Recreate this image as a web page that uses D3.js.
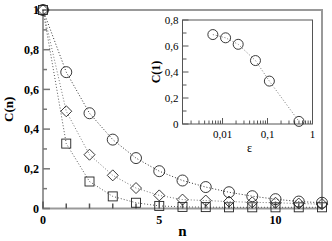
<!DOCTYPE html>
<html>
<head>
<meta charset="utf-8">
<style>
  body { margin: 0; background: #fff; }
  text { font-family: "Liberation Serif", "Times New Roman", "DejaVu Serif", serif; }
  .main text { font-weight: bold; font-size: 12px; }
  .inset text { font-size: 11px; }
</style>
</head>
<body>
<div id="chart"></div>
<script src="https://cdn.jsdelivr.net/npm/d3@7"></script>
<script>
// main panel: C(n) for three runs
var nValues = [0, 1, 2, 3, 4, 5, 6, 7, 8, 9, 10, 11, 12];
var circleC  = [1, 0.687, 0.48, 0.347, 0.254, 0.188, 0.141, 0.108, 0.082, 0.062, 0.047, 0.035, 0.029];
var diamondC = [1, 0.49, 0.271, 0.167, 0.103, 0.066, 0.045, 0.04, 0.035, 0.031, 0.029, 0.025, 0.022];
var squareC  = [1, 0.327, 0.136, 0.061, 0.029, 0.013, 0.008, 0.007, 0.006, 0.006, 0.006, 0.006, 0.006];
var mainYTicks = [0, 0.2, 0.4, 0.6, 0.8, 1];
var mainYLabels = ["0", "0,2", "0,4", "0,6", "0,8", "1"];
var mainXTicks = [0, 5, 10];

// inset: C(1) against epsilon
var epsValues = [0.0061, 0.0117, 0.0223, 0.054, 0.11, 0.5];
var c1Values = [0.688, 0.663, 0.613, 0.488, 0.33, 0.02];
var insetYTicks = [0, 0.2, 0.4, 0.6, 0.8];
var insetYLabels = ["0", "0,2", "0,4", "0,6", "0,8"];
var insetXTicks = [0.01, 0.1, 1];
var insetXLabels = ["0,01", "0,1", "1"];

var W = 332, H = 241;
var serif = "'Liberation Serif', 'Times New Roman', 'DejaVu Serif', serif";
var svg = d3.select("#chart").append("svg").attr("width", W).attr("height", H);

var x = d3.scaleLinear().domain([0, 12]).range([43, 322]);
var y = d3.scaleLinear().domain([0, 1]).range([208.5, 10]);

var main = svg.append("g").attr("class", "main");

// frame
main.append("rect")
  .attr("x", x(0)).attr("y", y(1))
  .attr("width", x(12) - x(0)).attr("height", y(0) - y(1))
  .attr("fill", "none").attr("stroke", "#999").attr("stroke-width", 2);

// y ticks (inside)
d3.range(0, 1.0001, 0.1).forEach(function(v, i) {
  main.append("line")
    .attr("x1", x(0)).attr("x2", x(0) + (i % 2 === 0 ? 7 : 4))
    .attr("y1", y(v)).attr("y2", y(v))
    .attr("stroke", "#777").attr("stroke-width", 1.5);
});
mainYTicks.forEach(function(v, i) {
  main.append("text")
    .attr("x", x(0) - 4).attr("y", y(v)).attr("dy", "0.35em")
    .attr("text-anchor", "end").attr("font-family", serif).text(mainYLabels[i]);
});
// x ticks
nValues.forEach(function(v) {
  main.append("line")
    .attr("x1", x(v)).attr("x2", x(v))
    .attr("y1", y(0)).attr("y2", y(0) - (v % 5 === 0 ? 7 : 5))
    .attr("stroke", "#555").attr("stroke-width", 1.5);
});
mainXTicks.forEach(function(v) {
  main.append("text")
    .attr("x", x(v)).attr("y", y(0) + 15)
    .attr("text-anchor", "middle").attr("font-family", serif).text(v);
});

main.append("text")
  .attr("transform", "translate(13," + y(0.5) + ") rotate(-90)")
  .attr("text-anchor", "middle").attr("font-family", serif).style("font-size", "13px").text("C(n)");
main.append("text")
  .attr("x", x(6)).attr("y", 236)
  .attr("text-anchor", "middle").attr("font-family", serif).style("font-size", "15px").text("n");

var line = d3.line().x(function(d) { return x(d[0]); }).y(function(d) { return y(d[1]); });

function series(vals, color, shape) {
  var pts = nValues.map(function(n, i) { return [n, vals[i]]; });
  main.append("path").attr("d", line(pts))
    .attr("fill", "none").attr("stroke", color).attr("stroke-width", 1)
    .attr("stroke-dasharray", "1,2");
  pts.forEach(function(p) {
    var cx = x(p[0]), cy = y(p[1]);
    if (shape === "circle") {
      main.append("circle").attr("cx", cx).attr("cy", cy).attr("r", 5.5)
        .attr("fill", "none").attr("stroke", "#222").attr("stroke-width", 0.9);
    } else if (shape === "diamond") {
      main.append("path")
        .attr("d", "M" + cx + "," + (cy - 5.5) + "L" + (cx + 5.5) + "," + cy + "L" + cx + "," + (cy + 5.5) + "L" + (cx - 5.5) + "," + cy + "Z")
        .attr("fill", "none").attr("stroke", "#222").attr("stroke-width", 0.9);
    } else {
      main.append("rect").attr("x", cx - 4.5).attr("y", cy - 4.5).attr("width", 9).attr("height", 9)
        .attr("fill", "none").attr("stroke", "#222").attr("stroke-width", 0.9);
    }
  });
}
series(squareC, "#555", "square");
series(diamondC, "#777", "diamond");
series(circleC, "#333", "circle");

// inset
var xi = d3.scaleLog().domain([0.00129, 1]).range([182.5, 312.5]);
var yi = d3.scaleLinear().domain([0, 0.8]).range([124, 20]);
var inset = svg.append("g").attr("class", "inset");

inset.append("rect")
  .attr("x", xi.range()[0]).attr("y", yi(0.8))
  .attr("width", xi.range()[1] - xi.range()[0]).attr("height", yi(0) - yi(0.8))
  .attr("fill", "none").attr("stroke", "#555").attr("stroke-width", 1);

d3.range(0, 0.80001, 0.1).forEach(function(v, i) {
  inset.append("line")
    .attr("x1", xi.range()[0]).attr("x2", xi.range()[0] + (i % 2 === 0 ? 6 : 4))
    .attr("y1", yi(v)).attr("y2", yi(v))
    .attr("stroke", "#555").attr("stroke-width", 1);
});
insetYTicks.forEach(function(v, i) {
  inset.append("text")
    .attr("x", xi.range()[0] - 4).attr("y", yi(v)).attr("dy", "0.35em")
    .attr("text-anchor", "end").attr("font-family", serif).text(insetYLabels[i]);
});
xi.ticks().forEach(function(v) {
  var major = insetXTicks.indexOf(v) >= 0;
  inset.append("line")
    .attr("x1", xi(v)).attr("x2", xi(v))
    .attr("y1", yi(0)).attr("y2", yi(0) - (major ? 6 : 3.5))
    .attr("stroke", "#555").attr("stroke-width", 1);
});
insetXTicks.forEach(function(v, i) {
  inset.append("text")
    .attr("x", xi(v)).attr("y", yi(0) + 14)
    .attr("text-anchor", "middle").attr("font-family", serif).text(insetXLabels[i]);
});
inset.append("text")
  .attr("transform", "translate(160," + yi(0.4) + ") rotate(-90)")
  .attr("text-anchor", "middle").attr("font-family", serif)
  .style("font-size", "12px").style("font-weight", "bold").text("C(1)");
inset.append("text")
  .attr("x", xi(0.04)).attr("y", 152)
  .attr("text-anchor", "middle").attr("font-family", serif).style("font-size", "12px").text("ε");

var ipts = epsValues.map(function(e, i) { return [e, c1Values[i]]; });
inset.append("path")
  .attr("d", d3.line().x(function(d) { return xi(d[0]); }).y(function(d) { return yi(d[1]); })(ipts))
  .attr("fill", "none").attr("stroke", "#777").attr("stroke-width", 1).attr("stroke-dasharray", "1,2");
ipts.forEach(function(p) {
  inset.append("circle").attr("cx", xi(p[0])).attr("cy", yi(p[1])).attr("r", 5)
    .attr("fill", "none").attr("stroke", "#222").attr("stroke-width", 0.9);
});
</script>
</body>
</html>
